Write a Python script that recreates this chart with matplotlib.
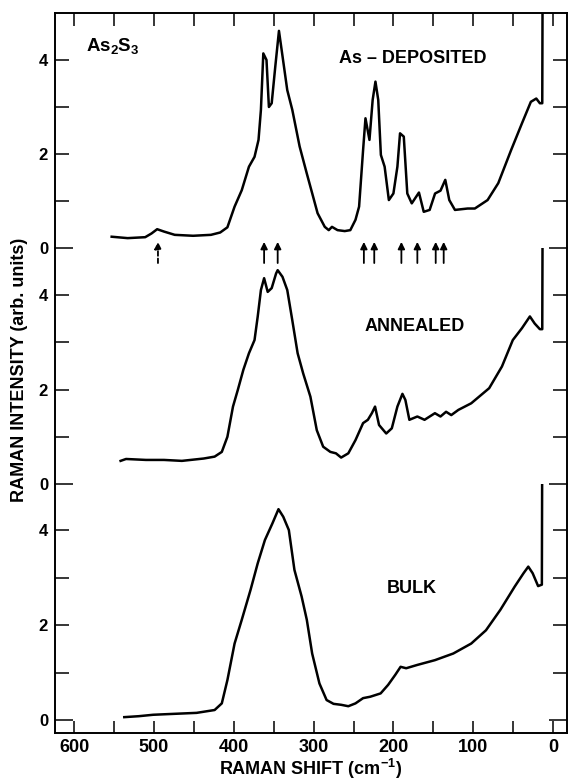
import matplotlib
matplotlib.use("Agg")
import matplotlib.pyplot as plt

plt.rcParams["font.family"] = ["Liberation Sans", "DejaVu Sans"]
plt.rcParams["font.weight"] = "bold"
plt.rcParams["axes.labelweight"] = "bold"
plt.rcParams["mathtext.fontset"] = "custom"
plt.rcParams["mathtext.rm"] = "Liberation Sans:bold"
plt.rcParams["mathtext.it"] = "Liberation Sans:bold"
plt.rcParams["mathtext.bf"] = "Liberation Sans:bold"
plt.rcParams["mathtext.sf"] = "Liberation Sans:bold"

# Raman spectra of As2S3 (shift in cm^-1, intensity in arb. units)
dep_shift = [553, 533, 511, 503, 496, 487.5, 474, 451, 428.6, 417, 408, 399, 390, 381,
             374, 369, 366, 363, 359, 356, 352.5, 348, 343.4, 340, 333, 326.7, 317.5,
             308.6, 301.7, 295, 286, 281, 277, 270, 261, 254, 247.5, 243, 238, 235,
             230, 226, 222.5, 219, 215.7, 211, 205.7, 200, 195, 191.7, 187, 182.6, 177,
             168, 162, 154.6, 147.8, 141, 135, 130, 122.9, 107, 98, 82, 68.6, 52.6,
             39, 27.8, 21, 16.5, 13.5, 13.0]
dep_int = [0.24, 0.21, 0.23, 0.31, 0.40, 0.35, 0.28, 0.26, 0.28, 0.33, 0.44, 0.88, 1.23,
           1.73, 1.94, 2.30, 2.94, 4.14, 4.00, 3.00, 3.08, 3.86, 4.62, 4.21, 3.36, 2.94,
           2.16, 1.59, 1.16, 0.74, 0.45, 0.38, 0.45, 0.38, 0.36, 0.38, 0.60, 0.88, 2.08,
           2.76, 2.30, 3.15, 3.54, 3.15, 1.98, 1.73, 1.02, 1.16, 1.73, 2.44, 2.37, 1.16,
           0.95, 1.18, 0.77, 0.81, 1.16, 1.22, 1.45, 1.02, 0.81, 0.84, 0.84, 1.02, 1.38,
           2.08, 2.65, 3.11, 3.18, 3.08, 3.08, 6.0]

ann_shift = [541.8, 535, 510, 487.5, 465, 437.6, 424, 415, 408, 401, 395, 388, 381, 374,
             370, 366, 362, 357.5, 352.5, 347, 345, 339, 333, 326.7, 320, 313, 304, 296,
             288, 279, 272, 265.5, 256.5, 247.5, 238, 232, 227, 223, 218, 209, 202, 195,
             188.7, 185, 180, 170, 161, 148, 141, 134, 127.5, 118.6, 102.5, 80, 64, 50.4,
             39, 29, 23, 16.5, 13.5, 13.0]
ann_int = [0.49, 0.53, 0.51, 0.51, 0.49, 0.54, 0.58, 0.68, 1.00, 1.64, 1.99, 2.42, 2.77,
           3.05, 3.55, 4.11, 4.36, 4.07, 4.15, 4.46, 4.53, 4.39, 4.11, 3.47, 2.77, 2.34,
           1.85, 1.14, 0.79, 0.68, 0.65, 0.56, 0.65, 0.93, 1.29, 1.36, 1.50, 1.64, 1.25,
           1.07, 1.18, 1.64, 1.91, 1.78, 1.36, 1.43, 1.36, 1.50, 1.43, 1.53, 1.46, 1.57,
           1.71, 2.03, 2.49, 3.05, 3.30, 3.55, 3.40, 3.28, 3.28, 6.0]

bulk_shift = [537.2, 519, 501, 474, 446.6, 424, 415, 408, 399, 390, 379, 370, 361, 351.6,
              344, 338, 331, 324, 315, 308.5, 301.8, 292.7, 283.7, 275, 265.5, 256.5,
              247.5, 238, 229, 216, 206.6, 197.7, 191, 184, 170, 148, 125, 102.5, 84, 66,
              48, 37, 31, 25.5, 18.7, 14.0, 13.5]
bulk_int = [0.06, 0.08, 0.11, 0.13, 0.15, 0.21, 0.35, 0.84, 1.61, 2.11, 2.74, 3.30, 3.79,
            4.14, 4.44, 4.28, 4.00, 3.16, 2.60, 2.11, 1.40, 0.77, 0.42, 0.34, 0.32, 0.29,
            0.35, 0.46, 0.49, 0.56, 0.74, 0.95, 1.12, 1.09, 1.16, 1.26, 1.40, 1.61, 1.89,
            2.32, 2.81, 3.09, 3.23, 3.09, 2.82, 2.85, 6.0]

# Assigned Raman lines marked under the as-deposited spectrum
line_positions = [495, 362, 345, 237, 224, 190, 170, 147, 137]

panel_labels = ["As \u2013 DEPOSITED", "ANNEALED", "BULK"]

fig = plt.figure(figsize=(5.68, 7.80), dpi=100)
left, width = 55 / 568, 512 / 568
ax_top = fig.add_axes([left, 1 - 248 / 780, width, 235 / 780])
ax_mid = fig.add_axes([left, 1 - 484 / 780, width, 236 / 780])
ax_bot = fig.add_axes([left, 1 - 733 / 780, width, 249 / 780])

ax_top.set_ylim(0, 5.0)
ax_mid.set_ylim(0, 5.0)
ax_bot.set_ylim(-0.274, 4.97)

spectra = [(ax_top, dep_shift, dep_int), (ax_mid, ann_shift, ann_int),
           (ax_bot, bulk_shift, bulk_int)]

for ax, xs, ys in spectra:
    ax.patch.set_visible(False)
    ax.plot(xs, ys, color="black", lw=1.8, solid_joinstyle="round")
    ax.set_xlim(624, -17.5)
    for s in ax.spines.values():
        s.set_linewidth(1.4)
    # long tick at zero, shorter ones at each unit
    ax.set_yticks([0], labels=["0"])
    ax.set_yticks([1, 2, 3, 4], labels=["", "2", "", "4"], minor=True)
    ax.tick_params(axis="y", which="major", direction="in", left=True, right=True,
                   length=13, width=1.1, labelsize=12, pad=5)
    ax.tick_params(axis="y", which="minor", direction="in", left=True, right=True,
                   length=10, width=1.1, labelsize=12, pad=5)

ax_top.spines["bottom"].set_visible(False)
ax_mid.spines["bottom"].set_visible(False)
ax_mid.spines["top"].set_visible(False)
ax_bot.spines["top"].set_visible(False)

xt = list(range(0, 601, 50))
ax_top.set_xticks(xt)
ax_top.tick_params(axis="x", direction="in", top=True, bottom=False, labeltop=False,
                   labelbottom=False, length=9, width=1.1)
ax_mid.set_xticks([])
ax_bot.set_xticks(list(range(0, 601, 100)))
ax_bot.set_xticks(list(range(50, 600, 100)), minor=True)
ax_bot.tick_params(axis="x", which="both", direction="in", top=False, bottom=True,
                   length=9, width=1.1, labelsize=13, pad=4)

ax_bot.set_xlabel("RAMAN SHIFT (cm$^{-1}$)", fontsize=13, fontweight="bold", labelpad=1)
fig.text(20 / 568, 1 - 370 / 780, "RAMAN INTENSITY (arb. units)", rotation=90,
         ha="center", va="center", fontsize=13, fontweight="bold")

ax_top.text(585, 4.19, r"As$_2$S$_3$", fontsize=13.5, ha="left", va="baseline")
ax_top.text(176, 4.04, panel_labels[0], fontsize=13, ha="center", va="center")
ax_mid.text(173, 3.33, panel_labels[1], fontsize=13, ha="center", va="center")
ax_bot.text(177, 2.76, panel_labels[2], fontsize=13, ha="center", va="center")

for i, pos in enumerate(line_positions):
    ls = (0, (2.5, 1.5)) if i == 0 else "-"
    ax_top.annotate("", xy=(pos, 0.13), xytext=(pos, -0.32),
                    annotation_clip=False,
                    arrowprops=dict(arrowstyle="-|>", color="black", lw=1.3,
                                    linestyle=ls, mutation_scale=10,
                                    shrinkA=0, shrinkB=0))

fig.savefig("out.png", dpi=100)
